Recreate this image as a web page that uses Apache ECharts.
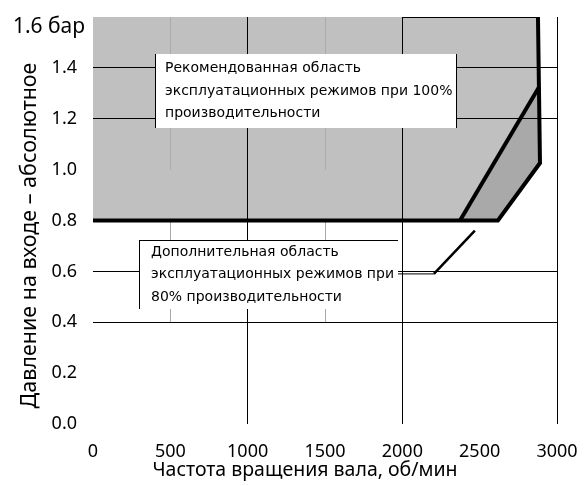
<!DOCTYPE html>
<html><head><meta charset="utf-8">
<script src="https://cdn.jsdelivr.net/npm/echarts@6/dist/echarts.min.js"></script>
<style>html,body{margin:0;padding:0;background:#fff}#c{width:587px;height:486px}</style>
</head><body><div id="c"></div>
<script>
// ---- data ----
const xMin = 0, xMax = 3000, xStep = 500;
const yMin = 0, yMax = 1.6, yStep = 0.2;
const recommendedArea = [[0,0.8],[0,1.6],[2877,1.6],[2884,1.325],[2373,0.8]];
const extraArea = [[2373,0.8],[2884,1.325],[2890,1.026],[2618,0.8]];
const outerBoundary = [[0,0.8],[2618,0.8],[2890,1.026],[2877,1.6]];
const boundary100 = [[2373,0.8],[2884,1.325]];
const topEdge = [[2000,1.6],[2877,1.6]];
const leaderFlat = [[1972,0.59],[2204,0.59]];
const leaderSlope = [[2204,0.59],[2469,0.76]];
const hGridBlack = [1.4,1.2,0.6,0.4];
const vGridBlack = [1000,2000,3000];
const vGridGray = [[500,1.0,1.6],[500,0.4,0.8],[1500,1.0,1.6],[1500,0.4,0.8]];
const box1Corners = [[401,1.454],[2353,1.165]];
const box2Corners = [[297,0.723],[1972,0.452]];
const box1Text = ['Рекомендованная область','эксплуатационных режимов при 100%','производительности'];
const box2Text = ['Дополнительная область','эксплуатационных режимов при','80% производительности'];
const xTitle = 'Частота вращения вала, об/мин';
const yTitle = 'Давление на входе – абсолютное';
const yTopLabel = '1.6 бар';

// ---- chart ----
const AX_FONT = '"Noto Sans", "Liberation Sans", sans-serif';
const BOX_FONT = '"DejaVu Sans", Verdana, sans-serif';
const chart = echarts.init(document.getElementById('c'), null, {renderer:'canvas'});
const crisp = v => Math.round(v - 0.5) + 0.5;

function segSeries(items, toSeg, color, width, z){
  return {
    type:'custom', coordinateSystem:'cartesian2d', silent:true, z:z, clip:false,
    data: items.map((d,i)=>[xMin, yMin, i]),
    renderItem(params, api){
      const s = toSeg(items[params.dataIndex]);
      const a = api.coord(s[0]), b = api.coord(s[1]);
      const h = Math.abs(a[1]-b[1]) < 0.5, v = Math.abs(a[0]-b[0]) < 0.5;
      return {type:'line', shape:{
        x1: v ? crisp(a[0]) : a[0], y1: h ? crisp(a[1]) : a[1],
        x2: v ? crisp(b[0]) : b[0], y2: h ? crisp(b[1]) : b[1]},
        style:{stroke:color, lineWidth:width}};
    }
  };
}
function polySeries(points, fill, z){
  return {
    type:'custom', coordinateSystem:'cartesian2d', silent:true, z:z,
    data:[[xMin,yMin]],
    renderItem(params, api){
      return {type:'polygon', shape:{points: points.map(p=>api.coord(p))}, style:{fill:fill, stroke:null}};
    }
  };
}
function boxSeries(corners, lines, textPad, borders, z){
  return {
    type:'custom', coordinateSystem:'cartesian2d', silent:true, z:z, clip:false,
    data:[[xMin,yMin]],
    renderItem(params, api){
      const a = api.coord(corners[0]), b = api.coord(corners[1]);
      const x0 = Math.round(a[0]), y0 = Math.round(a[1]), x1 = Math.round(b[0]), y1 = Math.round(b[1]);
      const ch = [
        {type:'rect', shape:{x:x0, y:y0, width:x1-x0, height:y1-y0}, style:{fill:'#fff', stroke:null}}
      ];
      const ln = (xa,ya,xb,yb)=>({type:'line', shape:{x1:xa,y1:ya,x2:xb,y2:yb}, style:{stroke:'#000', lineWidth:1}});
      if (borders.includes('l')) ch.push(ln(x0+0.5,y0,x0+0.5,y1));
      if (borders.includes('r')) ch.push(ln(x1-0.5,y0,x1-0.5,y1));
      if (borders.includes('t')) ch.push(ln(x0,y0+0.5,x1,y0+0.5));
      ch.push({type:'text', style:{text:lines.join('\n'), x:x0+textPad, y:(y0+y1)/2,
        verticalAlign:'middle', align:'left', fill:'#000', font:'14px '+BOX_FONT, lineHeight:22.5}});
      return {type:'group', children:ch};
    }
  };
}

const option = {
  animation:false,
  backgroundColor:'#fff',
  grid:{left:93, right:30, top:17, bottom:62, containLabel:false, outerBoundsMode:'none'},
  xAxis:{
    type:'value', min:xMin, max:xMax, interval:xStep,
    axisLine:{show:false}, axisTick:{show:false}, splitLine:{show:false},
    axisLabel:{color:'#000', fontSize:18, fontFamily:AX_FONT, margin:19, formatter:v => String(v)},
    name:xTitle, nameLocation:'middle', nameGap:36, nameMoveOverlap:false,
    nameTextStyle:{color:'#000', fontSize:19.5, fontFamily:AX_FONT, padding:[0,40,0,0]}
  },
  yAxis:{
    type:'value', min:yMin, max:yMax, interval:yStep,
    axisLine:{show:false}, axisTick:{show:false}, splitLine:{show:false},
    axisLabel:{color:'#000', fontFamily:AX_FONT, margin:8,
      formatter:v => Math.abs(v - yMax) < 1e-6 ? '{top|'+yTopLabel+'}' : '{n|'+v.toFixed(1)+'}',
      rich:{
        n:{fontSize:18, fontFamily:AX_FONT, color:'#000', padding:[0,8,0,0]},
        top:{fontSize:21, fontFamily:AX_FONT, color:'#000', padding:[20,0,0,0]}
      }},
    name:yTitle, nameLocation:'middle', nameGap:52, nameMoveOverlap:false,
    nameTextStyle:{color:'#000', fontSize:21.5, fontFamily:AX_FONT, padding:[0,30,0,0]}
  },
  series:[
    polySeries(recommendedArea, '#c0c0c0', 1),
    polySeries(extraArea, '#a9a9a9', 1),
    segSeries(vGridGray, g=>[[g[0],g[1]],[g[0],g[2]]], '#aaaaaa', 1, 2),
    segSeries(hGridBlack, v=>[[xMin,v],[xMax,v]], '#000', 1, 3),
    segSeries(vGridBlack, v=>[[v,yMin],[v,yMax]], '#000', 1, 3),
    segSeries([topEdge], s=>s, '#000', 1, 3),
    boxSeries(box1Corners, box1Text, 10, 'lr', 6),
    boxSeries(box2Corners, box2Text, 12, 'lt', 6),
    {type:'line', data:outerBoundary, symbol:'none', silent:true, z:8, clip:false,
      lineStyle:{color:'#000', width:4, join:'miter'}},
    {type:'line', data:boundary100, symbol:'none', silent:true, z:8, clip:false,
      lineStyle:{color:'#000', width:4}},
    {type:'line', data:leaderFlat, symbol:'none', silent:true, z:8,
      lineStyle:{color:'#000', width:1}},
    {type:'line', data:leaderSlope, symbol:'none', silent:true, z:8,
      lineStyle:{color:'#000', width:2.5}}
  ]
};
chart.setOption(option);
</script>
</body></html>
